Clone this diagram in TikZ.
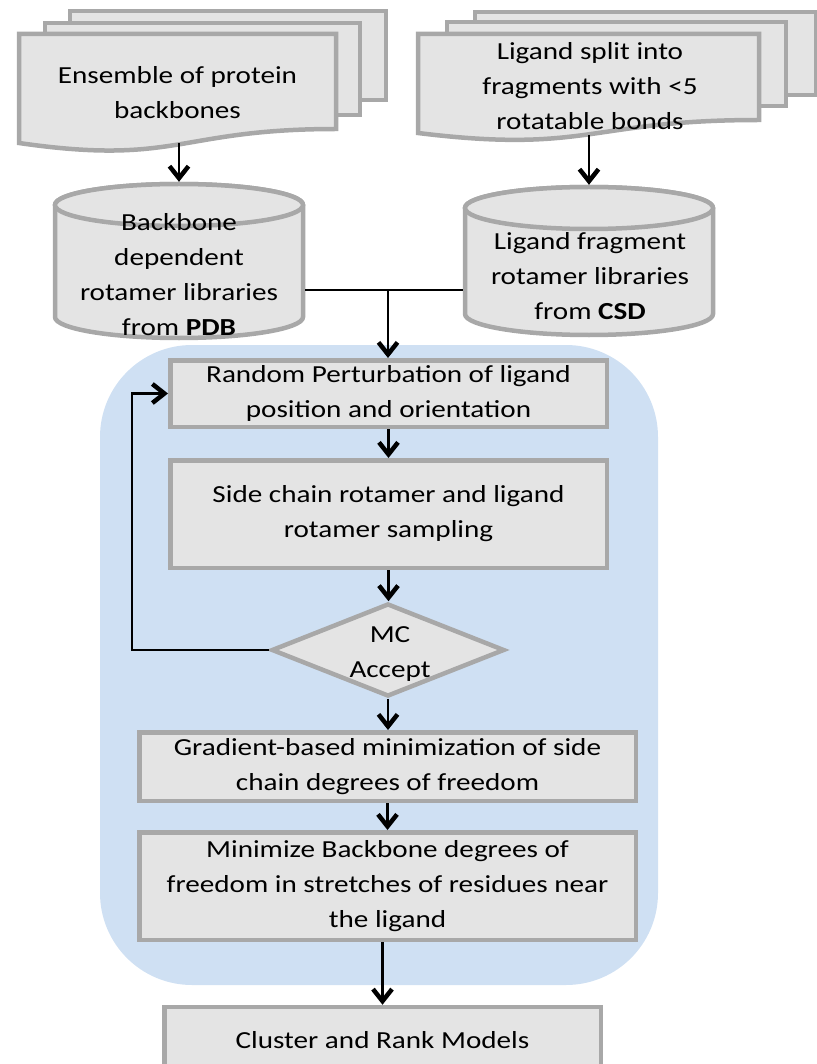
\documentclass[tikz,border=0pt]{standalone}
\usepackage{fontspec}
\setmainfont{Carlito}[FakeStretch=1.19]
\usetikzlibrary{arrows.meta,shapes.geometric}
\definecolor{bluebg}{RGB}{207,224,243}
\definecolor{shfill}{RGB}{228,228,228}
\definecolor{shline}{RGB}{168,168,168}
\begin{document}
\begin{tikzpicture}[x=1pt,y=-1pt,
  shp/.style={draw=shline, fill=shfill, line width=4.5pt},
  txt/.style={font=\fontsize{24.5}{35}\selectfont, align=center, inner sep=0pt},
  boxsty/.style={shp, rectangle, inner sep=0pt, font=\fontsize{24.5}{35}\selectfont, align=center},
  arr/.style={draw=black, line width=2.5pt, -{Straight Barb[length=12pt,width=19pt,line width'=4.5pt]}},
  ln/.style={draw=black, line width=2.5pt},
  ghost/.style={inner sep=0pt, draw=none}]

\useasboundingbox (0,0) rectangle (816,1064);

% blue background region
\fill[bluebg, rounded corners=92pt] (100,345) rectangle (658,985);

% left multi-document
\draw[shp] (70,11) rectangle (386,100);
\draw[shp] (45,23) rectangle (360,115);
\draw[shp] (19,34) -- (336,34) -- (336,129) .. controls (177.5,129) and (177.5,166) .. (19,143) -- cycle;
\node[ghost, minimum width=321pt, minimum height=111pt] (docL) at (177.5,87.5) {};
\node[txt] (docLt) at (177.5,93) {Ensemble of protein\\backbones};

% right multi-document
\draw[shp] (475,12) rectangle (816,95);
\draw[shp] (447,22) rectangle (786,106);
\draw[shp] (418,34) -- (759,34) -- (759,120) .. controls (588.5,120) and (588.5,154) .. (418,133) -- cycle;
\node[ghost, minimum width=345pt, minimum height=103pt] (docR) at (588.5,83.5) {};
\node[txt] (docRt) at (590,86) {Ligand split into\\fragments with <5\\rotatable bonds};

% left cylinder
\node[ghost, minimum width=252pt, minimum height=158pt] (cylL) at (179,261) {};
\draw[shp] (55,205) -- (55,317) arc(180:360:124pt and 21pt) -- (303,205) arc(0:180:124pt and 21pt) -- cycle;
\draw[shp] (179,205) ellipse [x radius=124pt, y radius=21pt];
\node[txt] (cylLt) at (179,275) {Backbone\\dependent\\rotamer libraries\\from \textbf{PDB}};

% right cylinder
\node[ghost, minimum width=252pt, minimum height=152pt] (cylR) at (589,261) {};
\draw[shp] (465,208) -- (465,314) arc(180:360:124pt and 21pt) -- (713,208) arc(0:180:124pt and 21pt) -- cycle;
\draw[shp] (589,208) ellipse [x radius=124pt, y radius=21pt];
\node[txt] (cylRt) at (590,276) {Ligand fragment\\rotamer libraries\\from \textbf{CSD}};

% process boxes
\node[boxsty, minimum width=436.5pt, minimum height=66.5pt] (b1) at (388.5,393.5) {Random Perturbation of ligand\\position and orientation};
\node[boxsty, minimum width=436.5pt, minimum height=107.5pt] (b2) at (388.5,514) {Side chain rotamer and ligand\\rotamer sampling};
\node[shp, diamond, inner sep=0pt, minimum width=233pt, minimum height=93pt] (mc) at (388,650) {};
\node[txt] (mct) at (390,654.5) {MC\\Accept};
\node[boxsty, minimum width=496.5pt, minimum height=68.5pt] (b3) at (387.5,766.5) {Gradient-based minimization of side\\chain degrees of freedom};
\node[boxsty, minimum width=496.5pt, minimum height=107.5pt] (b4) at (387.5,886) {Minimize Backbone degrees of\\freedom in stretches of residues near\\the ligand};
\node[boxsty, minimum width=436.5pt, minimum height=66pt] (b5) at (382.5,1040) {Cluster and Rank Models};

% connectors
\draw[arr] (cylL.north |- docL.south) -- (cylL.north);
\draw[arr] (cylR.north |- docR.south) -- (cylR.north);
\coordinate (j) at (388,290);
\draw[ln] ([yshift=-29pt]cylL.east) -- ([yshift=-29pt]cylR.west);
\draw[arr] (j) -- (j |- b1.north);
\draw[arr] (b1.south) -- (b2.north);
\draw[arr] (b2.south) -- (b2.south |- mc.north);
\draw[arr] (mc.south) -- (mc.south |- b3.north);
\draw[arr] (b3.south) -- (b4.north);
\draw[arr] (b5.north |- b4.south) -- (b5.north);
\coordinate (lp) at (132,650);
\draw[arr] (mc.west) -- (lp) |- (b1.west);
\end{tikzpicture}
\end{document}
